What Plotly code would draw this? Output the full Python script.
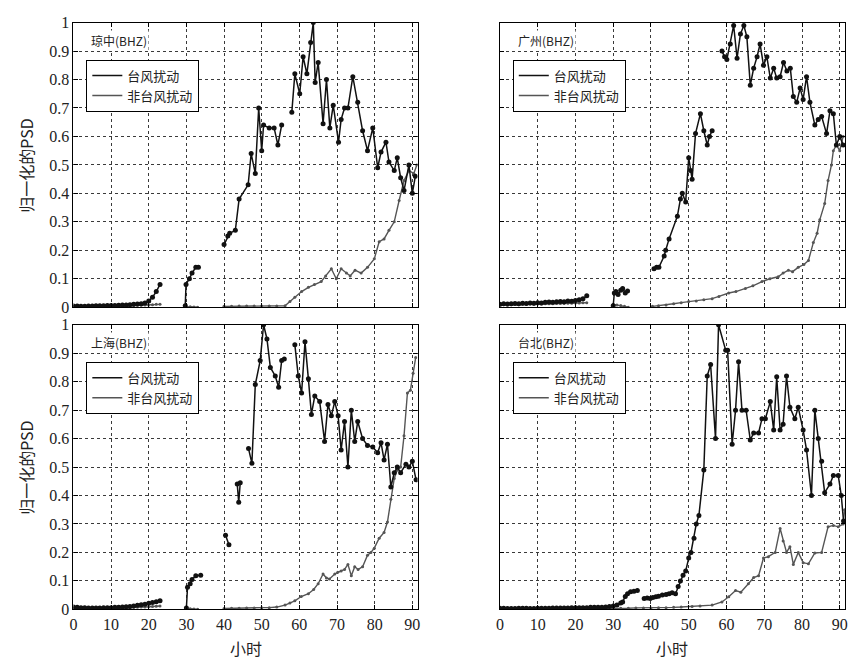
import plotly.graph_objects as go

# ---------------- data ----------------
panel_titles = ["琼中(BHZ)", "广州(BHZ)", "上海(BHZ)", "台北(BHZ)"]
legend_names = ["台风扰动", "非台风扰动"]
x_ticks = [0, 10, 20, 30, 40, 50, 60, 70, 80, 90]
y_ticks = [0, 0.1, 0.2, 0.3, 0.4, 0.5, 0.6, 0.7, 0.8, 0.9, 1]
y_tick_text = ["0", "0.1", "0.2", "0.3", "0.4", "0.5", "0.6", "0.7", "0.8", "0.9", "1"]

# 琼中 – typhoon disturbance
qz_typhoon_x = [0, 1, 2, 3, 4, 5, 6, 7, 8, 9, 10, 11, 12, 13, 14, 15, 16, 17, 18, 19, 20, 21, 22, 23,
                None,
                29.7, 29.9, 30.8, 31.5, 32.5, 33.2,
                None,
                40.0, 41.0, 41.5, 43.0, 44.0, 46.4, 47.2, 48.3, 49.2, 50.0, 50.5, 52.0, 53.3, 54.3, 55.3,
                None,
                58.0, 58.8, 60.1, 61.0, 62.0, 63.0, 63.7, 64.2, 65.0, 66.3, 67.2, 68.1, 69.0, 70.4, 71.1,
                72.0, 72.9, 74.2, 75.5, 76.8, 78.1, 79.5, 80.8, 81.7, 83.0, 83.8, 85.2, 86.0, 86.9, 87.8,
                89.1, 90.0, 90.8]
qz_typhoon_y = [0.004, 0.004, 0.003, 0.003, 0.004, 0.004, 0.005, 0.005, 0.005, 0.006, 0.006, 0.006,
                0.007, 0.008, 0.008, 0.009, 0.010, 0.011, 0.012, 0.015, 0.022, 0.035, 0.055, 0.080,
                None,
                0.005, 0.080, 0.100, 0.120, 0.140, 0.140,
                None,
                0.22, 0.25, 0.26, 0.27, 0.38, 0.43, 0.54, 0.47, 0.70, 0.55, 0.64, 0.63, 0.63, 0.57, 0.64,
                None,
                0.685, 0.82, 0.75, 0.88, 0.82, 0.93, 1.0, 0.79, 0.86, 0.645, 0.80, 0.63, 0.71, 0.58, 0.66,
                0.70, 0.70, 0.81, 0.72, 0.62, 0.55, 0.63, 0.49, 0.545, 0.58, 0.51, 0.48, 0.525, 0.455, 0.41,
                0.50, 0.40, 0.46]
# 琼中 – non-typhoon disturbance
qz_other_x = [0, 1, 2, 3, 4, 5, 6, 7, 8, 9, 10, 11, 12, 13, 14, 15, 16, 17, 18, 19, 20, 21, 22, 23,
              None,
              30, 31, 32, 33,
              None,
              40, 42, 44, 46, 48, 50, 52, 54, 56.2, 57.5, 58.8, 60.6, 62.4, 64.0, 65.8, 67.0, 68.5, 69.8,
              71.1, 72.5, 73.5, 74.8, 76.4, 78.1, 79.9, 81.2, 82.5, 83.8, 85.2, 86.5, 87.8, 89.1, 90.4, 91.2]
qz_other_y = [0.003, 0.003, 0.002, 0.003, 0.003, 0.003, 0.004, 0.004, 0.004, 0.004, 0.005, 0.005,
              0.005, 0.005, 0.006, 0.006, 0.006, 0.007, 0.007, 0.008, 0.008, 0.009, 0.010, 0.010,
              None,
              0.0, 0.002, 0.001, 0.0,
              None,
              0.003, 0.003, 0.004, 0.004, 0.004, 0.004, 0.004, 0.004, 0.005, 0.02, 0.035, 0.055, 0.07,
              0.08, 0.09, 0.11, 0.135, 0.10, 0.135, 0.12, 0.11, 0.13, 0.12, 0.14, 0.17, 0.23, 0.24, 0.27,
              0.30, 0.375, 0.445, 0.48, 0.47, 0.50]

# 广州 – typhoon disturbance
gz_typhoon_x = [0, 1, 2, 3, 4, 5, 6, 7, 8, 9, 10, 11, 12, 13, 14, 15, 16, 17, 18, 19, 20, 21, 22, 23,
                None,
                30.0, 30.3, 30.7, 31.3, 32.0, 32.5, 33.2, 33.8,
                None,
                40.8, 41.5, 42.1, 43.5, 43.9, 44.8, 47.0, 47.8, 48.3, 49.2, 50.0, 50.5, 50.9, 51.8, 53.1,
                54.0, 54.9, 55.5, 56.2,
                None,
                58.8, 59.5, 60.1, 61.0, 61.9, 62.8, 63.7, 64.6, 65.4, 66.3, 67.2, 68.1, 68.9, 69.8, 70.7,
                71.6, 72.5, 73.3, 74.2, 75.1, 76.0, 76.9, 77.7, 78.6, 79.5, 80.3, 81.2, 82.1, 83.4, 84.3,
                85.2, 86.5, 87.4, 88.3, 89.1, 90.0, 90.9]
gz_typhoon_y = [0.010, 0.012, 0.011, 0.012, 0.013, 0.012, 0.014, 0.013, 0.015, 0.014, 0.016, 0.015,
                0.017, 0.018, 0.017, 0.019, 0.020, 0.019, 0.022, 0.021, 0.024, 0.026, 0.030, 0.040,
                None,
                0.005, 0.050, 0.055, 0.045, 0.060, 0.066, 0.050, 0.057,
                None,
                0.135, 0.14, 0.14, 0.18, 0.20, 0.24, 0.32, 0.38, 0.40, 0.37, 0.525, 0.48, 0.45, 0.61, 0.68,
                0.62, 0.57, 0.60, 0.62,
                None,
                0.90, 0.88, 0.87, 0.925, 0.99, 0.875, 0.96, 0.99, 0.95, 0.78, 0.84, 0.88, 0.925, 0.85, 0.88,
                0.805, 0.84, 0.805, 0.81, 0.86, 0.83, 0.84, 0.74, 0.72, 0.77, 0.73, 0.81, 0.72, 0.64, 0.66,
                0.67, 0.61, 0.69, 0.68, 0.57, 0.60, 0.57]
# 广州 – non-typhoon disturbance
gz_other_x = [0, 1, 2, 3, 4, 5, 6, 7, 8, 9, 10, 11, 12, 13, 14, 15, 16, 17, 18, 19, 20, 21, 22, 23,
              None,
              30, 31, 32, 33, 34,
              None,
              40.4, 42, 44, 46, 48, 50, 52, 54, 56.2, 58, 60.6, 62.5, 65, 67, 69.4, 71.5, 73.7, 75, 76.4,
              77.5, 79, 80.5, 81.7, 83.0, 84.0, 84.7, 86.0, 86.9, 87.8, 88.3, 89.1, 90.0, 90.9]
gz_other_y = [0.008, 0.009, 0.008, 0.009, 0.010, 0.009, 0.010, 0.010, 0.011, 0.010, 0.011, 0.011,
              0.012, 0.012, 0.012, 0.013, 0.013, 0.013, 0.014, 0.014, 0.015, 0.015, 0.016, 0.016,
              None,
              0.010, 0.008, 0.006, 0.003, 0.0,
              None,
              0.003, 0.005, 0.008, 0.012, 0.016, 0.02, 0.022, 0.026, 0.03, 0.038, 0.05, 0.055, 0.066,
              0.075, 0.09, 0.10, 0.107, 0.12, 0.13, 0.125, 0.14, 0.15, 0.164, 0.227, 0.26, 0.307, 0.364,
              0.445, 0.50, 0.55, 0.57, 0.55, 0.60]

# 上海 – typhoon disturbance
sh_typhoon_x = [0, 1, 2, 3, 4, 5, 6, 7, 8, 9, 10, 11, 12, 13, 14, 15, 16, 17, 18, 19, 20, 21, 22, 23,
                None,
                30.0, 30.3, 31.0, 31.5, 32.5, 33.8,
                None,
                40.4, 41.3,
                None,
                43.5, 43.9, 44.3,
                None,
                46.5, 47.4, 48.3, 49.6, 50.5, 51.4, 52.3, 53.6, 54.5, 55.3, 56.0,
                None,
                58.8, 59.7, 60.6, 61.5, 62.4, 63.2, 64.1, 65.4, 66.7, 67.6, 68.5, 69.4, 70.3, 71.1, 72.0,
                72.9, 73.8, 74.7, 75.5, 76.8, 78.1, 79.5, 80.8, 81.7, 82.5, 83.4, 84.3, 85.2, 86.0, 86.9,
                88.3, 89.1, 90.0, 91.0]
sh_typhoon_y = [0.008, 0.007, 0.006, 0.006, 0.005, 0.005, 0.005, 0.005, 0.006, 0.006, 0.006, 0.007,
                0.007, 0.008, 0.009, 0.010, 0.012, 0.014, 0.016, 0.018, 0.021, 0.024, 0.027, 0.030,
                None,
                0.005, 0.078, 0.09, 0.105, 0.118, 0.12,
                None,
                0.26, 0.227,
                None,
                0.44, 0.376, 0.445,
                None,
                0.565, 0.513, 0.79, 0.874, 1.0, 0.95, 0.85, 0.82, 0.78, 0.874, 0.88,
                None,
                0.93, 0.82, 0.76, 0.94, 0.81, 0.685, 0.75, 0.73, 0.59, 0.72, 0.68, 0.73, 0.68, 0.56, 0.66,
                0.50, 0.70, 0.59, 0.66, 0.60, 0.576, 0.57, 0.55, 0.585, 0.525, 0.58, 0.43, 0.48, 0.50, 0.48,
                0.51, 0.50, 0.52, 0.455]
# 上海 – non-typhoon disturbance
sh_other_x = [0, 1, 2, 3, 4, 5, 6, 7, 8, 9, 10, 11, 12, 13, 14, 15, 16, 17, 18, 19, 20, 21, 22, 23,
              None,
              30, 31, 32, 33,
              None,
              40, 42, 44, 46, 48, 50, 52, 54, 56.2, 57.5, 58.8, 60.5, 62.4, 63.8, 65.0, 66.3, 67.2, 68.0,
              69.4, 70.2, 71.1, 72.0, 72.9, 73.8, 74.7, 75.6, 76.8, 78.1, 79.0, 79.9, 81.2, 82.5, 83.4,
              84.3, 85.2, 86.0, 86.9, 87.8, 88.7, 89.5, 90.2, 90.9]
sh_other_y = [0.004, 0.004, 0.004, 0.004, 0.004, 0.004, 0.004, 0.005, 0.005, 0.005, 0.005, 0.005,
              0.005, 0.006, 0.006, 0.006, 0.007, 0.007, 0.008, 0.008, 0.009, 0.010, 0.011, 0.012,
              None,
              0.0, 0.002, 0.001, 0.0,
              None,
              0.003, 0.004, 0.004, 0.005, 0.005, 0.006, 0.006, 0.008, 0.015, 0.022, 0.03, 0.045, 0.055,
              0.07, 0.09, 0.124, 0.11, 0.107, 0.124, 0.13, 0.135, 0.14, 0.158, 0.118, 0.15, 0.14, 0.15,
              0.19, 0.20, 0.215, 0.25, 0.27, 0.307, 0.387, 0.46, 0.49, 0.50, 0.61, 0.76, 0.77, 0.83, 0.885]

# 台北 – typhoon disturbance
tb_typhoon_x = [0, 1, 2, 3, 4, 5, 6, 7, 8, 9, 10, 11, 12, 13, 14, 15, 16, 17, 18, 19, 20, 21, 22, 23,
                24, 25, 26, 27, 28, 29, 30, 31, 32, 32.5, 33.2, 33.8, 34.6, 35.5, 36.4,
                None,
                38.2, 39.0, 39.8, 40.5, 41.3, 42.0, 43.0, 44.0, 44.8, 45.6, 46.5, 47.2, 47.8, 48.5, 49.2,
                50.0, 50.6, 51.4, 52.0, 52.7, 54.0, 54.9, 55.8, 57.1, 57.9, 59.8, 60.3, 61.5, 62.4, 63.2,
                64.1, 65.2, 66.3, 67.2, 68.5, 69.4, 70.3, 71.6, 72.5, 73.3, 74.2, 75.0, 75.9, 76.8, 78.1,
                79.0, 80.3, 81.2, 82.5, 83.4, 84.3, 85.2, 86.0, 87.4, 88.3, 89.6, 90.4, 91.0]
tb_typhoon_y = [0.004, 0.004, 0.003, 0.003, 0.003, 0.004, 0.004, 0.004, 0.003, 0.003, 0.004, 0.004,
                0.004, 0.004, 0.005, 0.005, 0.005, 0.005, 0.005, 0.006, 0.006, 0.006, 0.006, 0.006,
                0.007, 0.007, 0.007, 0.007, 0.008, 0.010, 0.012, 0.015, 0.022, 0.026, 0.045, 0.055, 0.062,
                0.064, 0.066,
                None,
                0.038, 0.040, 0.038, 0.042, 0.044, 0.046, 0.050, 0.052, 0.055, 0.058, 0.055, 0.08, 0.10,
                0.12, 0.135, 0.18, 0.20, 0.25, 0.30, 0.33, 0.49, 0.82, 0.86, 0.60, 1.0, 0.91, 0.91, 0.58,
                0.70, 0.87, 0.70, 0.70, 0.595, 0.62, 0.62, 0.67, 0.67, 0.73, 0.63, 0.817, 0.63, 0.65, 0.82,
                0.71, 0.67, 0.71, 0.63, 0.56, 0.40, 0.70, 0.60, 0.52, 0.41, 0.44, 0.47, 0.47, 0.40, 0.31]
# 台北 – non-typhoon disturbance
tb_other_x = [0, 2, 4, 6, 8, 10, 12, 14, 16, 18, 20, 22, 24, 26, 28, 30, 32, 34, 36, 38, 40, 42, 44,
              46, 48, 50.9, 53, 56.2, 58.8, 60.6, 62.4, 63.8, 65.8, 67.2, 68.5, 69.8, 71.1, 72.9, 74.2,
              75.0, 75.9, 76.8, 77.7, 79.0, 80.3, 81.7, 83.4, 85.2, 86.9, 88.3, 89.6, 90.9, 91.3]
tb_other_y = [0.002, 0.002, 0.002, 0.002, 0.002, 0.002, 0.003, 0.003, 0.003, 0.003, 0.003, 0.003,
              0.003, 0.004, 0.004, 0.004, 0.004, 0.004, 0.005, 0.005, 0.005, 0.006, 0.006, 0.007, 0.008,
              0.010, 0.012, 0.015, 0.026, 0.044, 0.066, 0.06, 0.09, 0.112, 0.118, 0.18, 0.185, 0.20, 0.284,
              0.24, 0.20, 0.22, 0.158, 0.20, 0.164, 0.16, 0.198, 0.20, 0.29, 0.295, 0.29, 0.30, 0.35]

panels = [
    (qz_typhoon_x, qz_typhoon_y, qz_other_x, qz_other_y),
    (gz_typhoon_x, gz_typhoon_y, gz_other_x, gz_other_y),
    (sh_typhoon_x, sh_typhoon_y, sh_other_x, sh_other_y),
    (tb_typhoon_x, tb_typhoon_y, tb_other_x, tb_other_y),
]

# ---------------- layout geometry (pixels of the 855x670 canvas) ----------------
W, H = 855, 670
col_px = [(70, 417), (500, 848)]
row_px = [(15, 307), (325, 617)]

TYPHOON_COLOR = "#111111"
OTHER_COLOR = "#555555"
GRID_COLOR = "#3a3a3a"
TICK_FONT = dict(family="Liberation Serif", size=16, color="#222222")
CJK_FONT = "Noto Sans CJK SC"

fig = go.Figure()
layout = dict(
    width=W, height=H,
    margin=dict(l=0, r=0, t=0, b=0),
    paper_bgcolor="white", plot_bgcolor="white",
    showlegend=True,
    annotations=[],
)

for i, (tx, ty, ox, oy) in enumerate(panels):
    r, c = divmod(i, 2)
    n = i + 1
    xa = "x" if n == 1 else f"x{n}"
    ya = "y" if n == 1 else f"y{n}"
    lg = "legend" if n == 1 else f"legend{n}"

    fig.add_trace(go.Scatter(
        x=ox, y=oy, xaxis=xa, yaxis=ya, mode="lines+markers", showlegend=False,
        line=dict(color=OTHER_COLOR, width=1.4),
        marker=dict(color=OTHER_COLOR, size=3),
        connectgaps=False,
    ))
    fig.add_trace(go.Scatter(
        x=tx, y=ty, xaxis=xa, yaxis=ya, mode="lines+markers", showlegend=False,
        line=dict(color=TYPHOON_COLOR, width=1.5),
        marker=dict(color=TYPHOON_COLOR, size=5),
        connectgaps=False,
    ))
    # legend entries (line samples only)
    for name, col in zip(legend_names, [TYPHOON_COLOR, OTHER_COLOR]):
        fig.add_trace(go.Scatter(
            x=[None], y=[None], xaxis=xa, yaxis=ya, mode="lines", name=name,
            line=dict(color=col, width=1.5), legend=lg,
        ))

    x0, x1 = col_px[c]
    y0, y1 = row_px[r]
    show_xlabels = (r == 1)
    show_ylabels = (c == 0)

    layout["xaxis" if n == 1 else f"xaxis{n}"] = dict(
        domain=[x0 / W, x1 / W], anchor=ya, range=[0, 91.4],
        tickvals=x_ticks, showticklabels=show_xlabels, tickfont=TICK_FONT,
        ticks="inside", ticklen=4, tickcolor="black",
        showline=True, linecolor="black", linewidth=1.2, mirror="ticks",
        showgrid=True, gridcolor=GRID_COLOR, griddash="dot", gridwidth=1.2,
        zeroline=False,
    )
    layout["yaxis" if n == 1 else f"yaxis{n}"] = dict(
        domain=[1 - y1 / H, 1 - y0 / H], anchor=xa, range=[0, 1],
        tickvals=y_ticks, ticktext=y_tick_text, showticklabels=show_ylabels,
        tickfont=TICK_FONT,
        ticks="inside", ticklen=4, tickcolor="black",
        showline=True, linecolor="black", linewidth=1.2, mirror="ticks",
        showgrid=True, gridcolor=GRID_COLOR, griddash="dot", gridwidth=1.2,
        zeroline=False,
    )
    layout[lg] = dict(
        x=(x0 + 13) / W, y=1 - (y0 + 38) / H, xanchor="left", yanchor="top",
        bgcolor="white", bordercolor="black", borderwidth=1,
        font=dict(family=CJK_FONT, size=13, color="#222222"),
        tracegroupgap=0, itemwidth=30,
    )
    # station label
    layout["annotations"].append(dict(
        text=panel_titles[i], xref="paper", yref="paper",
        x=(x0 + 16) / W, y=1 - (y0 + 18) / H, xanchor="left", yanchor="middle",
        showarrow=False, bgcolor="white",
        font=dict(family=CJK_FONT, size=12, color="#222222"),
    ))
    if show_ylabels:
        layout["annotations"].append(dict(
            text="归一化的PSD", xref="paper", yref="paper",
            x=22 / W, y=1 - ((y0 + y1) / 2) / H, xanchor="center", yanchor="middle",
            textangle=-90, showarrow=False,
            font=dict(family=CJK_FONT, size=16, color="#222222"),
        ))
    if show_xlabels:
        layout["annotations"].append(dict(
            text="小时", xref="paper", yref="paper",
            x=((x0 + x1) / 2) / W, y=1 - 657 / H, xanchor="center", yanchor="middle",
            showarrow=False,
            font=dict(family=CJK_FONT, size=16, color="#222222"),
        ))

fig.update_layout(**layout)
fig.write_html("out.html")
